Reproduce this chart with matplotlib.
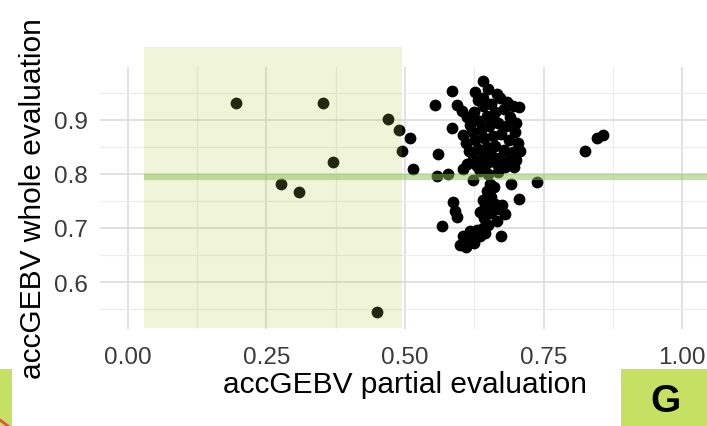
import numpy as np
import matplotlib.pyplot as plt
from matplotlib.patches import Rectangle

plt.rcParams['font.family'] = ['Liberation Sans', 'DejaVu Sans']

# puntos aislados (fuera del grupo principal)
x_side = [0.196, 0.353, 0.470, 0.490, 0.509, 0.494, 0.371, 0.515, 0.276, 0.309, 0.449,
          0.825, 0.846, 0.857]
y_side = [0.931, 0.931, 0.901, 0.881, 0.866, 0.842, 0.823, 0.809, 0.781, 0.766, 0.544,
          0.842, 0.866, 0.873]

# grupo principal
x_top = [0.641, 0.585, 0.554, 0.593, 0.602, 0.626, 0.632, 0.665, 0.684, 0.705, 0.584, 0.560,
         0.650, 0.672, 0.695]
y_top = [0.973, 0.954, 0.928, 0.927, 0.917, 0.951, 0.936, 0.948, 0.933, 0.924, 0.885, 0.837,
         0.958, 0.940, 0.925]

x_mid = [0.612, 0.625, 0.640, 0.655, 0.618, 0.633, 0.648, 0.662, 0.678, 0.690, 0.700, 0.605,
         0.620, 0.637, 0.652, 0.668, 0.683, 0.698, 0.610, 0.627, 0.643, 0.658, 0.673, 0.688,
         0.703, 0.615, 0.632, 0.648, 0.663, 0.678, 0.695, 0.708, 0.622, 0.640, 0.655, 0.670,
         0.688, 0.612, 0.630, 0.648, 0.665, 0.680, 0.696, 0.640, 0.622, 0.660]
y_mid = [0.905, 0.915, 0.925, 0.930, 0.890, 0.898, 0.907, 0.915, 0.920, 0.905, 0.895, 0.872,
         0.878, 0.882, 0.888, 0.895, 0.888, 0.878, 0.858, 0.862, 0.866, 0.870, 0.874, 0.862,
         0.858, 0.842, 0.846, 0.850, 0.852, 0.845, 0.840, 0.842, 0.828, 0.832, 0.835, 0.830,
         0.826, 0.818, 0.815, 0.820, 0.818, 0.812, 0.812, 0.940, 0.900, 0.900]

x_line = [0.557, 0.578, 0.605, 0.623, 0.650, 0.653, 0.692, 0.738, 0.635, 0.668, 0.700]
y_line = [0.797, 0.800, 0.809, 0.788, 0.800, 0.781, 0.781, 0.786, 0.805, 0.803, 0.825]

x_low = [0.705, 0.587, 0.590, 0.593, 0.566, 0.648, 0.655, 0.640, 0.662, 0.645, 0.670, 0.635,
         0.655, 0.680, 0.642, 0.665, 0.650, 0.675, 0.660, 0.674, 0.600, 0.608, 0.615, 0.622,
         0.630, 0.640, 0.610, 0.625, 0.635, 0.645, 0.618, 0.605]
y_low = [0.754, 0.748, 0.732, 0.720, 0.704, 0.768, 0.758, 0.752, 0.745, 0.740, 0.735, 0.730,
         0.728, 0.725, 0.718, 0.712, 0.705, 0.742, 0.775, 0.686, 0.668, 0.676, 0.682, 0.690,
         0.696, 0.700, 0.665, 0.672, 0.685, 0.690, 0.695, 0.686]

x_all = np.array(x_side + x_top + x_mid + x_line + x_low)
y_all = np.array(y_side + y_top + y_mid + y_line + y_low)

rect_x = (0.03, 0.495)
hline_y = 0.795
x_ticks = [0.00, 0.25, 0.50, 0.75, 1.00]
x_labels = ['0.00', '0.25', '0.50', '0.75', '1.00']
y_ticks = [0.6, 0.7, 0.8, 0.9]
y_labels = ['0.6', '0.7', '0.8', '0.9']

fig = plt.figure(figsize=(7.07, 4.27), dpi=100)
ax = fig.add_axes([100/707, 1 - 330/427, 610/707, 262/427])
ax.set_xlim(-0.05, 1.05)
ax.set_ylim(0.513, 0.998)

# rejilla estilo ggplot minimal
for v in np.arange(0.125, 1.0, 0.25):
    ax.axvline(v, color='#ececec', lw=0.8, zorder=0)
for v in x_ticks:
    ax.axvline(v, color='#dedede', lw=1.3, zorder=0)
for v in np.arange(0.55, 1.0, 0.1):
    ax.axhline(v, color='#ececec', lw=0.8, zorder=0)
for v in y_ticks:
    ax.axhline(v, color='#dedede', lw=1.3, zorder=0)

ax.scatter(x_all, y_all, s=72, color='black', linewidths=0, zorder=2)

ax.add_patch(Rectangle((rect_x[0], 0.515), rect_x[1] - rect_x[0], 1.035 - 0.515,
                       facecolor='#b4cd46', alpha=0.2, edgecolor='none', zorder=3,
                       clip_on=False))
ax.plot([rect_x[0], 1.06], [hline_y, hline_y], color='#8cc152', alpha=0.5, lw=4.5,
        zorder=4, clip_on=False, solid_capstyle='butt')

for s in ax.spines.values():
    s.set_visible(False)
ax.set_xticks(x_ticks)
ax.set_xticklabels(x_labels)
ax.set_yticks(y_ticks)
ax.set_yticklabels(y_labels)
ax.tick_params(axis='x', length=0, labelsize=17.5, labelcolor='#3a3a3a', pad=12)
ax.tick_params(axis='y', length=0, labelsize=17.5, labelcolor='#3a3a3a', pad=9)
ax.set_xlabel('accGEBV partial evaluation', fontsize=21.5, labelpad=2)
ax.set_ylabel('accGEBV whole evaluation', fontsize=21.5, labelpad=5)

# etiquetas de panel
fig.patches.append(Rectangle((621/707, 0), 86/707, 57/427, facecolor='#c5e063',
                             edgecolor='none', transform=fig.transFigure, figure=fig))
fig.patches.append(Rectangle((0, 0), 12/707, 57/427, facecolor='#c5e063',
                             edgecolor='none', transform=fig.transFigure, figure=fig))
fig.text(665/707, 1 - 402/427, 'G', fontsize=28, fontweight='bold', ha='center',
         va='center')
fig.lines.append(plt.Line2D([0, 8/707], [6/427, 0], color='#e05050', lw=2,
                            transform=fig.transFigure))

fig.savefig('out.png', dpi=100)
